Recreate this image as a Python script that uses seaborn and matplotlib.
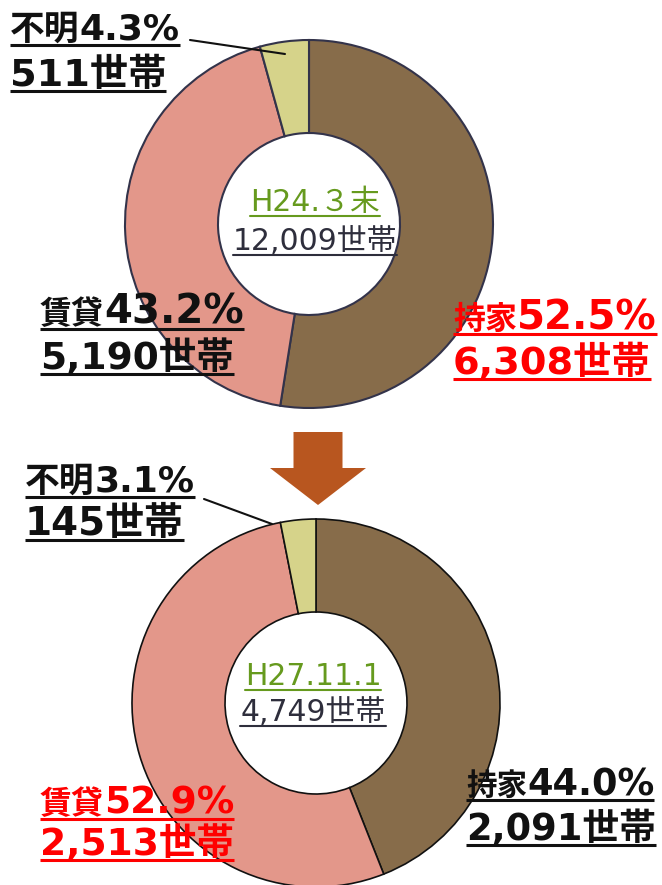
import matplotlib
matplotlib.use("Agg")
import matplotlib.pyplot as plt
import seaborn as sns
from matplotlib.patches import FancyArrow

# data
categories = ["持家", "賃貸", "不明"]
h24_share = [52.5, 43.2, 4.3]
h24_households = [6308, 5190, 511]
h27_share = [44.0, 52.9, 3.1]
h27_households = [2091, 2513, 145]
h24_title = "H24.３末"
h27_title = "H27.11.1"
h24_total = 12009
h27_total = 4749

slice_colors = ["#876C4A", "#E3978A", "#D6D38A"]

sns.set_style("white")
plt.rcParams['font.family'] = ['DejaVu Sans', 'Noto Sans CJK JP']

W, H = 662, 885
fig = plt.figure(figsize=(W / 100, H / 100), dpi=100)
ax = fig.add_axes([0, 0, 1, 1])
renderer = fig.canvas.get_renderer()


def donut(shares, cx, cy, edge, lw):
    ax.pie(shares, colors=slice_colors, startangle=90, counterclock=False,
           center=(cx, H - cy), radius=184,
           wedgeprops=dict(width=93, edgecolor=edge, linewidth=lw))


def label(x, y, parts, color, ul=5, lw=2.2):
    # parts: list of (text, size); drawn left to right, then underlined
    x0 = x
    for s, size in parts:
        t = ax.text(x, H - y, s, fontsize=size, fontweight="bold", color=color,
                    ha="left", va="baseline")
        x += t.get_window_extent(renderer).width
    ax.plot([x0, x], [H - y - ul, H - y - ul], color=color, lw=lw,
            solid_capstyle="butt")


def center_label(x, y, s, color, size=21.5):
    t = ax.text(x, H - y, s, fontsize=size, color=color, ha="center",
                va="baseline", family=['DejaVu Sans', 'Noto Sans CJK JP'])
    bb = t.get_window_extent(renderer)
    ax.plot([bb.x0, bb.x1], [H - y - 5, H - y - 5], color=color, lw=1.5)


donut(h24_share, 309, 224, "#33334A", 1.5)
donut(h27_share, 316, 703, "#111111", 1.2)

# pie() resets the limits, so fix them afterwards (1 data unit = 1 pixel)
ax.set_xlim(0, W)
ax.set_ylim(0, H)
ax.set_aspect("auto")
ax.axis("off")

black, red = "#111111", "#FF0000"
# top chart labels
label(10, 40, [(categories[2], 25), (f"{h24_share[2]}%", 26)], black)
label(10, 86, [(f"{h24_households[2]:,}世帯", 27.5)], black)
label(40, 324, [(categories[1], 23), (f"{h24_share[1]}%", 29)], black)
label(40, 369, [(f"{h24_households[1]:,}世帯", 27)], black)
label(453, 329, [(categories[0], 23), (f"{h24_share[0]}%", 29)], red)
label(453, 374, [(f"{h24_households[0]:,}世帯", 27.5)], red)
center_label(315, 211, h24_title, "#669A1E")
center_label(315, 250, f"{h24_total:,}世帯", "#2E2E3C")

# bottom chart labels
label(25, 492, [(categories[2], 25), (f"{h27_share[2]}%", 26)], black)
label(25, 535, [(f"{h27_households[2]:,}世帯", 28)], black)
label(40, 814, [(categories[1], 23), (f"{h27_share[1]}%", 27)], red)
label(40, 855, [(f"{h27_households[1]:,}世帯", 27)], red)
label(466, 795, [(categories[0], 22), (f"{h27_share[0]}%", 26.5)], black)
label(466, 840, [(f"{h27_households[0]:,}世帯", 26.5)], black)
center_label(313, 685, h27_title, "#669A1E")
center_label(313, 721, f"{h27_total:,}世帯", "#2E2E3C")

# leader lines
ax.plot([190, 285], [H - 40, H - 54], color=black, lw=1.5)
ax.plot([204, 272], [H - 499, H - 524], color=black, lw=1.5)

# arrow between the charts
ax.add_patch(FancyArrow(318, H - 432, 0, -73, width=49, head_width=96,
                        head_length=37, length_includes_head=True,
                        color="#B8561F", lw=0))

fig.savefig("out.png", dpi=100)
